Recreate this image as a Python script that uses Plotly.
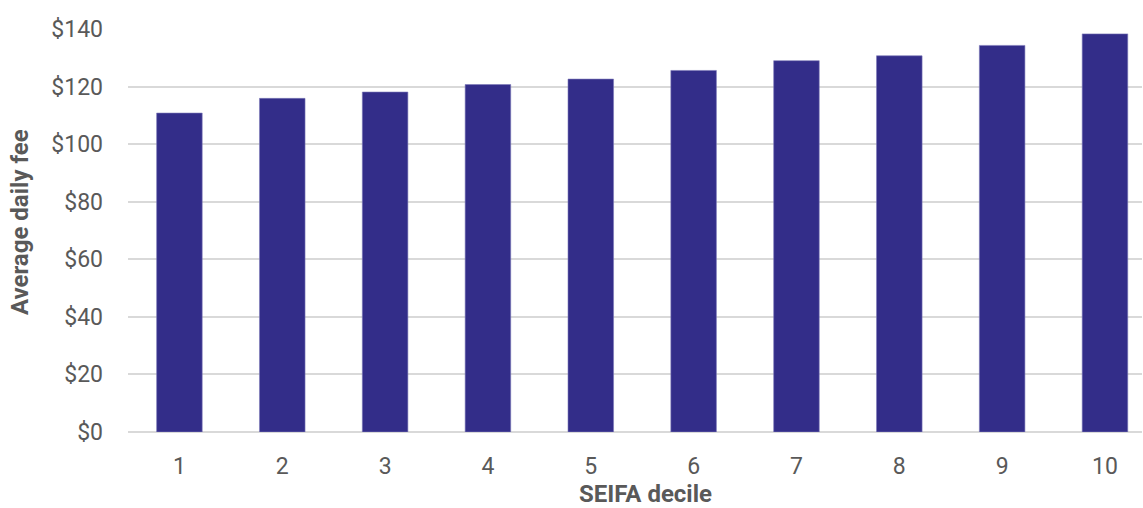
import plotly.graph_objects as go

deciles = ["1", "2", "3", "4", "5", "6", "7", "8", "9", "10"]
avg_fee = [110.8, 115.9, 118.1, 120.7, 122.6, 125.6, 129.0, 130.7, 134.3, 138.3]
y_ticks = [0, 20, 40, 60, 80, 100, 120, 140]
y_tick_labels = ["$0", "$20", "$40", "$60", "$80", "$100", "$120", "$140"]
x_title = "SEIFA decile"
y_title = "Average daily fee"

fig = go.Figure(
    go.Bar(
        x=deciles,
        y=avg_fee,
        marker=dict(color="#332D89", line=dict(color="#7c78b8", width=0.6)),
    )
)

font_color = "#595959"
fig.update_layout(
    width=1143,
    height=508,
    margin=dict(l=128, r=1, t=29, b=76),
    plot_bgcolor="white",
    paper_bgcolor="white",
    bargap=0.557,
    showlegend=False,
    font=dict(family="Roboto", size=23, color=font_color),
)
fig.update_xaxes(
    type="category",
    range=[-0.5, 9.36],
    showgrid=False,
    showline=False,
    ticks="",
    ticklabelstandoff=18,
    tickfont=dict(size=23, color=font_color),
)
fig.update_yaxes(
    range=[0, 140],
    tickvals=y_ticks,
    ticktext=y_tick_labels,
    showgrid=True,
    gridcolor="#d9d9d9",
    gridwidth=1.5,
    zeroline=True,
    zerolinecolor="#d9d9d9",
    zerolinewidth=1.5,
    showline=False,
    ticks="",
    ticklabelstandoff=24,
    tickfont=dict(size=23, color=font_color),
)
fig.add_annotation(
    text=f"<b>{x_title}</b>", xref="paper", yref="paper", x=0.51, y=-0.154,
    xanchor="center", yanchor="middle", showarrow=False, borderpad=0,
    font=dict(size=24, color=font_color),
)
fig.add_annotation(
    text=f"<b>{y_title}</b>", xref="paper", yref="paper", x=-0.1065, y=0.521,
    xanchor="center", yanchor="middle", showarrow=False, textangle=-90,
    font=dict(size=24, color=font_color),
)

fig.write_html(
    "out.html",
    config={"displayModeBar": False},
    post_script="document.body.style.margin='0';document.body.style.overflow='hidden';",
)
